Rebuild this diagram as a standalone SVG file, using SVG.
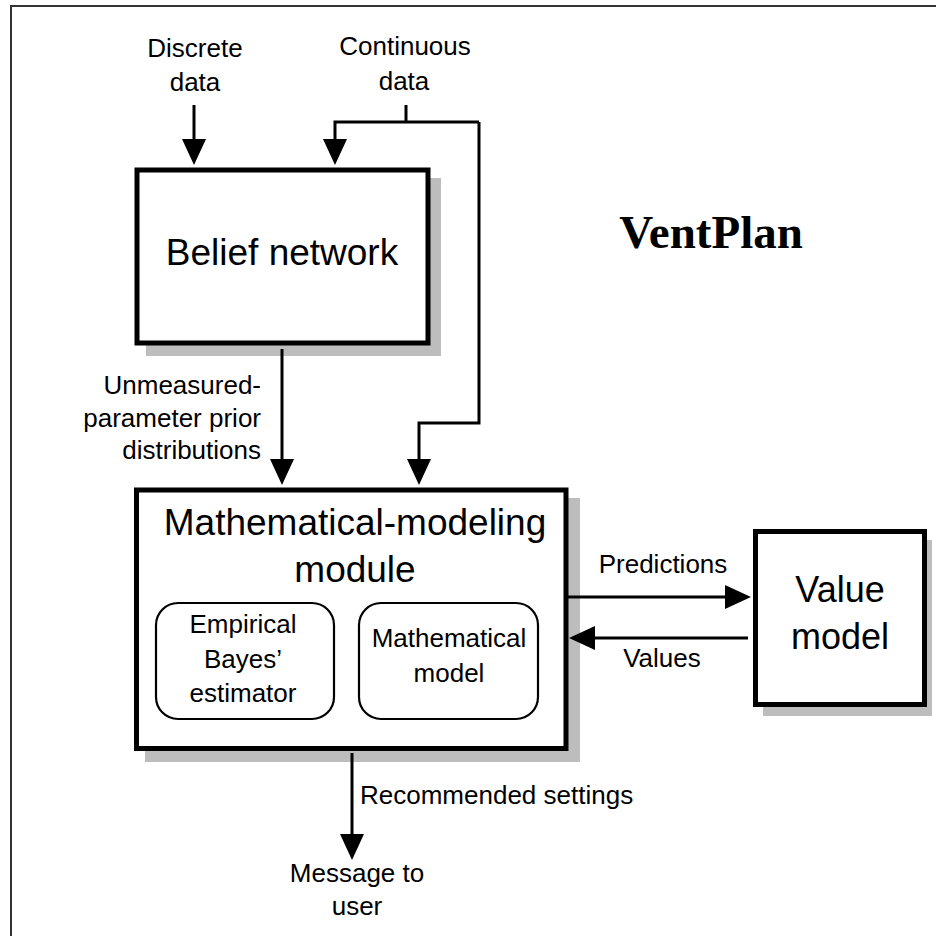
<svg xmlns="http://www.w3.org/2000/svg" width="936" height="936" viewBox="0 0 936 936">
<style>
.t{font-family:"Liberation Sans",Arial,sans-serif;fill:#000}
.s{font-size:26px}
.b{font-size:37px}
.c{text-anchor:middle}
.box{fill:#fff;stroke:#000;stroke-width:5}
.shadow{fill:#bdbdbd}
.sub{fill:#fff;stroke:#000;stroke-width:2.2}
.ln{fill:none;stroke:#000;stroke-width:3}
</style>
<defs>
<marker id="ah" markerUnits="userSpaceOnUse" markerWidth="26" markerHeight="24" viewBox="0 0 26 24" refX="18" refY="12" orient="auto">
<path d="M0,0 L26,12 L0,24 z" fill="#000"/>
</marker>
</defs>
<rect width="936" height="936" fill="#fff"/>
<g id="frame">
<path d="M11,936 V6 H936" fill="none" stroke="#333" stroke-width="2"/>
</g>
<g id="title">
<text x="711" y="248" font-family="'Liberation Serif','Times New Roman',serif" font-weight="bold" font-size="47" text-anchor="middle">VentPlan</text>
</g>
<g id="discrete-data">
<text class="t s c" x="195" y="57">Discrete</text>
<text class="t s c" x="195" y="91">data</text>
</g>
<g id="continuous-data">
<text class="t s c" x="405" y="55">Continuous</text>
<text class="t s c" x="404" y="90">data</text>
</g>
<g id="belief-network">
<rect class="shadow" x="146" y="178" width="295" height="178"/>
<rect class="box" x="137" y="170" width="291" height="173"/>
<text class="t b c" x="282" y="265">Belief network</text>
</g>
<g id="math-module">
<rect class="shadow" x="145" y="498" width="435" height="264"/>
<rect class="box" x="136.5" y="490" width="429.5" height="258.5"/>
<text class="t b c" x="355" y="535">Mathematical-modeling</text>
<text class="t b c" x="355" y="582">module</text>
</g>
<g id="empirical-bayes">
<rect class="sub" x="156" y="603" width="178" height="116" rx="22" ry="22"/>
<text class="t s c" x="243" y="633">Empirical</text>
<text class="t s c" x="243" y="668">Bayes’</text>
<text class="t s c" x="243" y="702">estimator</text>
</g>
<g id="math-model">
<rect class="sub" x="359" y="603" width="179" height="116" rx="22" ry="22"/>
<text class="t s c" x="449" y="647">Mathematical</text>
<text class="t s c" x="449" y="682">model</text>
</g>
<g id="value-model">
<rect class="shadow" x="763" y="540" width="169" height="176"/>
<rect class="box" x="755.5" y="531.5" width="169" height="173"/>
<text class="t b c" x="840" y="602" style="font-size:36px">Value</text>
<text class="t b c" x="840" y="649" style="font-size:36px">model</text>
</g>
<g id="message-to-user">
<text class="t s c" x="357" y="882">Message to</text>
<text class="t s c" x="357" y="915">user</text>
</g>
<g id="connectors">
<path class="ln" d="M194,105 V157" marker-end="url(#ah)"/>
<path class="ln" d="M406,105 V122"/>
<path class="ln" d="M479,122 H335 V157" marker-end="url(#ah)"/>
<path class="ln" d="M479,122 V423 H419 V477" marker-end="url(#ah)"/>
<path class="ln" d="M282,349 V477" marker-end="url(#ah)"/>
<text class="t s" x="261" y="394" text-anchor="end">Unmeasured-</text>
<text class="t s" x="261" y="427" text-anchor="end">parameter prior</text>
<text class="t s" x="261" y="459" text-anchor="end">distributions</text>
<path class="ln" d="M568,597 H743" marker-end="url(#ah)"/>
<text class="t s c" x="663" y="573">Predictions</text>
<path class="ln" d="M748,638 H577" marker-end="url(#ah)"/>
<text class="t s c" x="662" y="667">Values</text>
<path class="ln" d="M352,753 V852" marker-end="url(#ah)"/>
<text class="t s" x="360" y="804">Recommended settings</text>
</g>
</svg>
